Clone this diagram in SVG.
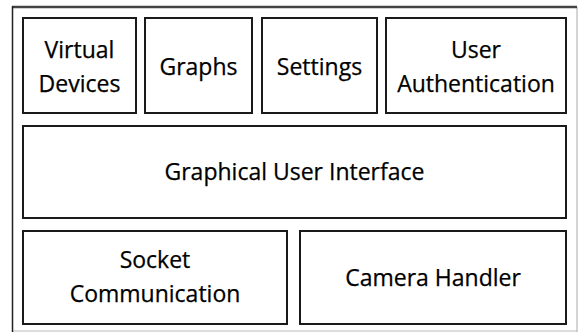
<svg xmlns="http://www.w3.org/2000/svg" width="579" height="333" viewBox="0 0 579 333">
<style>
.box{fill:#fff;stroke:#1a1a1a;stroke-width:2}
text{font-family:"Open Sans","Liberation Sans",sans-serif;font-size:23px;fill:#000;stroke:#000;stroke-width:0.25;text-anchor:middle}
</style>
<rect x="0" y="0" width="579" height="333" fill="#fff"/>
<g id="frame">
<line x1="12" y1="331" x2="577" y2="331" stroke="#bbb" stroke-width="1"/>
<line x1="577" y1="7" x2="577" y2="332" stroke="#aaa" stroke-width="1"/>
<line x1="12" y1="7" x2="577" y2="7" stroke="#444" stroke-width="2.5"/>
<line x1="12.5" y1="6" x2="12.5" y2="332" stroke="#222" stroke-width="1.5"/>
</g>
<g id="virtual-devices"><rect class="box" x="23" y="18" width="113" height="95"/><text x="79.5" y="58">Virtual</text><text x="79.5" y="91.5">Devices</text></g>
<g id="graphs"><rect class="box" x="145" y="18" width="107" height="95"/><text x="198.5" y="75">Graphs</text></g>
<g id="settings"><rect class="box" x="262" y="18" width="115" height="95"/><text x="319.5" y="75">Settings</text></g>
<g id="user-authentication"><rect class="box" x="386" y="18" width="180" height="95"/><text x="476" y="58">User</text><text x="476" y="91.5">Authentication</text></g>
<g id="gui"><rect class="box" x="23" y="126" width="543" height="92"/><text x="294.5" y="180">Graphical User Interface</text></g>
<g id="socket-communication"><rect class="box" x="23" y="231" width="264" height="93"/><text x="155" y="268">Socket</text><text x="155" y="302">Communication</text></g>
<g id="camera-handler"><rect class="box" x="300" y="231" width="266" height="93"/><text x="433" y="286">Camera Handler</text></g>
<g id="connectors"></g>
</svg>
